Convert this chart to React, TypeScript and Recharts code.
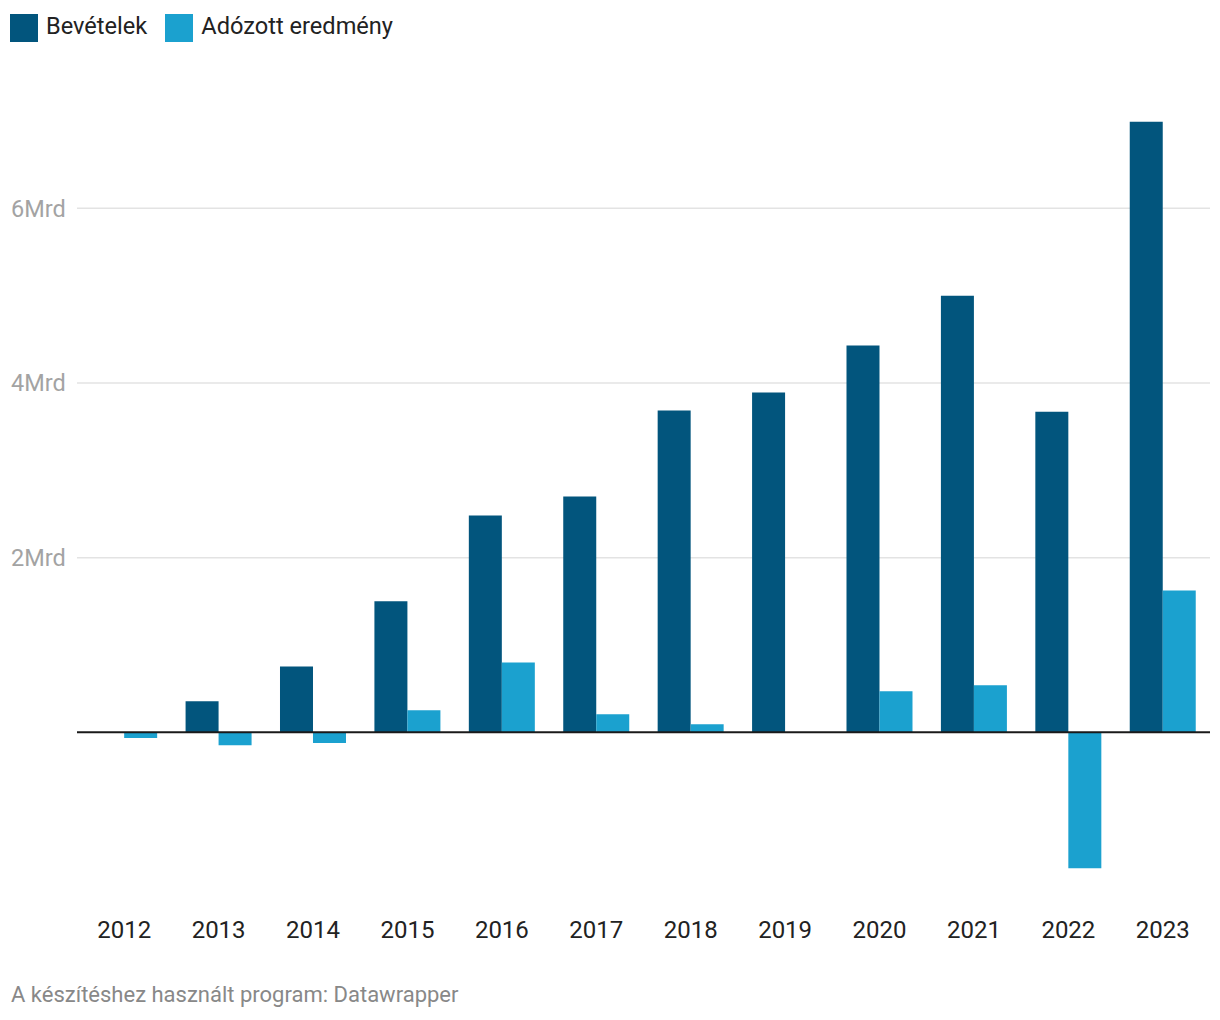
import React from 'react';
import { BarChart, Bar, XAxis, YAxis, CartesianGrid, ReferenceLine } from 'recharts';

const years = ['2012', '2013', '2014', '2015', '2016', '2017', '2018', '2019', '2020', '2021', '2022', '2023'];
const bevetelek = [0, 0.355, 0.755, 1.5, 2.483, 2.7, 3.684, 3.89, 4.43, 5.0, 3.67, 6.99];
const adozott = [-0.065, -0.149, -0.122, 0.252, 0.801, 0.206, 0.092, 0, 0.469, 0.538, -1.556, 1.625];
const yTicks = [2, 4, 6];
const yTickLabels = ['2Mrd', '4Mrd', '6Mrd'];

const seriesNames = ['Bevételek', 'Adózott eredmény'];
const colors = ['#02557d', '#1ba1cf'];

const data = years.map((y, i) => ({ year: y, bev: bevetelek[i], ado: adozott[i] }));

const YTick = (props: any) => {
  const { y, payload } = props;
  const idx = yTicks.indexOf(payload.value);
  if (idx < 0) return null;
  return (
    <text x={11} y={y} dy="0.35em" textAnchor="start" fill="#a3a3a3" fontSize={23.5} fontFamily="Roboto">
      {yTickLabels[idx]}
    </text>
  );
};

const XTick = (props: any) => {
  const { x, y, payload } = props;
  return (
    <text x={x} y={y} dy={31} textAnchor="middle" fill="#222" fontSize={24} fontFamily="Roboto">
      {payload.value}
    </text>
  );
};

export default function App() {
  return (
    <div style={{ position: 'absolute', left: 0, top: 0, width: 1220, height: 1020, background: '#fff', fontFamily: 'Roboto' }}>
      <div style={{ position: 'absolute', left: 10, top: 14, display: 'flex', alignItems: 'center', height: 28 }}>
        {seriesNames.map((n, i) => (
          <div key={n} style={{ display: 'flex', alignItems: 'center', marginRight: 18 }}>
            <div style={{ width: 28, height: 28, background: colors[i], marginRight: 8 }} />
            <span style={{ fontSize: 23.6, color: '#222', lineHeight: '28px', position: 'relative', top: -2 }}>{n}</span>
          </div>
        ))}
      </div>
      <BarChart
        width={1220}
        height={1020}
        data={data}
        margin={{ top: 121, right: 10, bottom: 73, left: 0 }}
        barCategoryGap="15%"
        barGap={0}
      >
        <CartesianGrid horizontal={true} vertical={false} horizontalValues={yTicks} stroke="#e3e3e3" strokeWidth={1.5} />
        <XAxis dataKey="year" axisLine={false} tickLine={false} tickSize={0} tickMargin={0} height={40} tick={<XTick />} interval={0} />
        <YAxis domain={[-2, 7]} ticks={yTicks} width={77} axisLine={false} tickLine={false} tick={<YTick />} />
        <Bar dataKey="bev" fill={colors[0]} isAnimationActive={false} />
        <Bar dataKey="ado" fill={colors[1]} isAnimationActive={false} />
        <ReferenceLine y={0} stroke="#1a1a1a" strokeWidth={2} />
      </BarChart>
      <div style={{ position: 'absolute', left: 11, top: 984, fontSize: 22, lineHeight: '22px', color: '#888', whiteSpace: 'nowrap' }}>
        A készítéshez használt program: Datawrapper
      </div>
    </div>
  );
}
